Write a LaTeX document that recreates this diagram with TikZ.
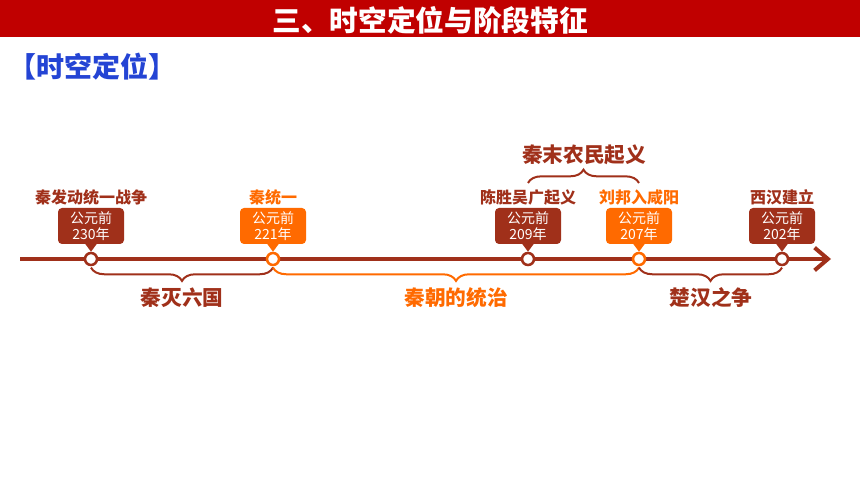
\documentclass[tikz,border=0pt]{standalone}
\usepackage{fontspec}
\newfontfamily\cjk{Noto Sans CJK SC}
\usetikzlibrary{decorations.pathreplacing,arrows.meta}
\definecolor{dred}{HTML}{A0301A}
\definecolor{orng}{HTML}{FF6A00}
\definecolor{tred}{HTML}{C00000}
\definecolor{tblue}{HTML}{2444D4}
\tikzset{
  dot/.style={circle,fill=white,line width=1.9pt,minimum size=9pt,inner sep=0pt},
  yearbox/.style={rounded corners=3pt,minimum width=49.5pt,minimum height=27pt,inner sep=1pt,
    align=center,text=white,font=\cjk\fontsize{10.5}{11.5}\selectfont},
  lab/.style={font=\cjk\bfseries\fontsize{12}{12}\selectfont,inner sep=0pt},
  spanlab/.style={font=\cjk\bfseries\fontsize{15.5}{16}\selectfont,inner sep=0pt},
  bracedown/.style={line width=1.5pt,decorate,decoration={brace,mirror,amplitude=10pt,raise=1pt}},
  braceup/.style={line width=1.5pt,decorate,decoration={brace,amplitude=10pt}},
}
\begin{document}
\begin{tikzpicture}[x=0.75pt,y=-0.75pt]
\useasboundingbox (0,0) rectangle (860,484);
% header
\fill[tred] (0,0) rectangle (860,37);
\node[font=\cjk\bfseries\fontsize{21.5}{22}\selectfont,text=white,inner sep=0pt] (title) at (430,20) {三、时空定位与阶段特征};
\node[font=\cjk\bfseries\fontsize{21}{21}\selectfont,text=tblue,inner sep=0pt] (sub) at (92,67) {【时空定位】};
% timeline
\coordinate (ls) at (20,259);
\coordinate (le) at (831,259);
\draw[dred,line width=3pt,-{Straight Barb[length=10pt,width=17pt]}] (ls) -- (le);
% points (placed first as nodes to get anchors)
\path (91,259) node[dot] (c1) {} (273,259) node[dot] (c2) {} (528,259) node[dot] (c3) {}
      (639,259) node[dot] (c4) {} (782,259) node[dot] (c5) {};
% braces below
\draw[bracedown,dred] (c1.south) -- (c2.south);
\draw[bracedown,orng] (c2.south) -- (c4.south);
\draw[bracedown,dred] (c4.south) -- (c5.south);
% year boxes
\node[yearbox,fill=dred] (b1) at (91,226) {公元前\\230年};
\node[yearbox,fill=orng] (b2) at (273,226) {公元前\\221年};
\node[yearbox,fill=dred] (b3) at (528,226) {公元前\\209年};
\node[yearbox,fill=orng] (b4) at (639,226) {公元前\\207年};
\node[yearbox,fill=dred] (b5) at (782,226) {公元前\\202年};
\fill[dred] ([xshift=-4.5pt,yshift=0.5pt]b1.south) -- ([xshift=4.5pt,yshift=0.5pt]b1.south) -- (c1.north) -- cycle;
\fill[orng] ([xshift=-4.5pt,yshift=0.5pt]b2.south) -- ([xshift=4.5pt,yshift=0.5pt]b2.south) -- (c2.north) -- cycle;
\fill[dred] ([xshift=-4.5pt,yshift=0.5pt]b3.south) -- ([xshift=4.5pt,yshift=0.5pt]b3.south) -- (c3.north) -- cycle;
\fill[orng] ([xshift=-4.5pt,yshift=0.5pt]b4.south) -- ([xshift=4.5pt,yshift=0.5pt]b4.south) -- (c4.north) -- cycle;
\fill[dred] ([xshift=-4.5pt,yshift=0.5pt]b5.south) -- ([xshift=4.5pt,yshift=0.5pt]b5.south) -- (c5.north) -- cycle;
% circles drawn on top
\node[dot,draw=dred] at (c1) {};
\node[dot,draw=orng] at (c2) {};
\node[dot,draw=dred] at (c3) {};
\node[dot,draw=orng] at (c4) {};
\node[dot,draw=dred] at (c5) {};
% event labels
\node[lab,text=dred] (l1) at (91,197) {秦发动统一战争};
\node[lab,text=orng] (l2) at (273,197) {秦统一};
\node[lab,text=dred] (l3) at (528,197) {陈胜吴广起义};
\node[lab,text=orng] (l4) at (639,197) {刘邦入咸阳};
\node[lab,text=dred] (l5) at (782,197) {西汉建立};
% upper brace
\coordinate (u1) at (528,183);
\coordinate (u2) at (639,183);
\draw[braceup,dred] (u1) -- (u2);
\node[spanlab,text=dred] (s4) at (584,155) {秦末农民起义};
% span labels
\node[spanlab,text=dred] (s1) at (182,298) {秦灭六国};
\node[spanlab,text=orng] (s2) at (456,298) {秦朝的统治};
\node[spanlab,text=dred] (s3) at (711,298) {楚汉之争};
\end{tikzpicture}
\end{document}
